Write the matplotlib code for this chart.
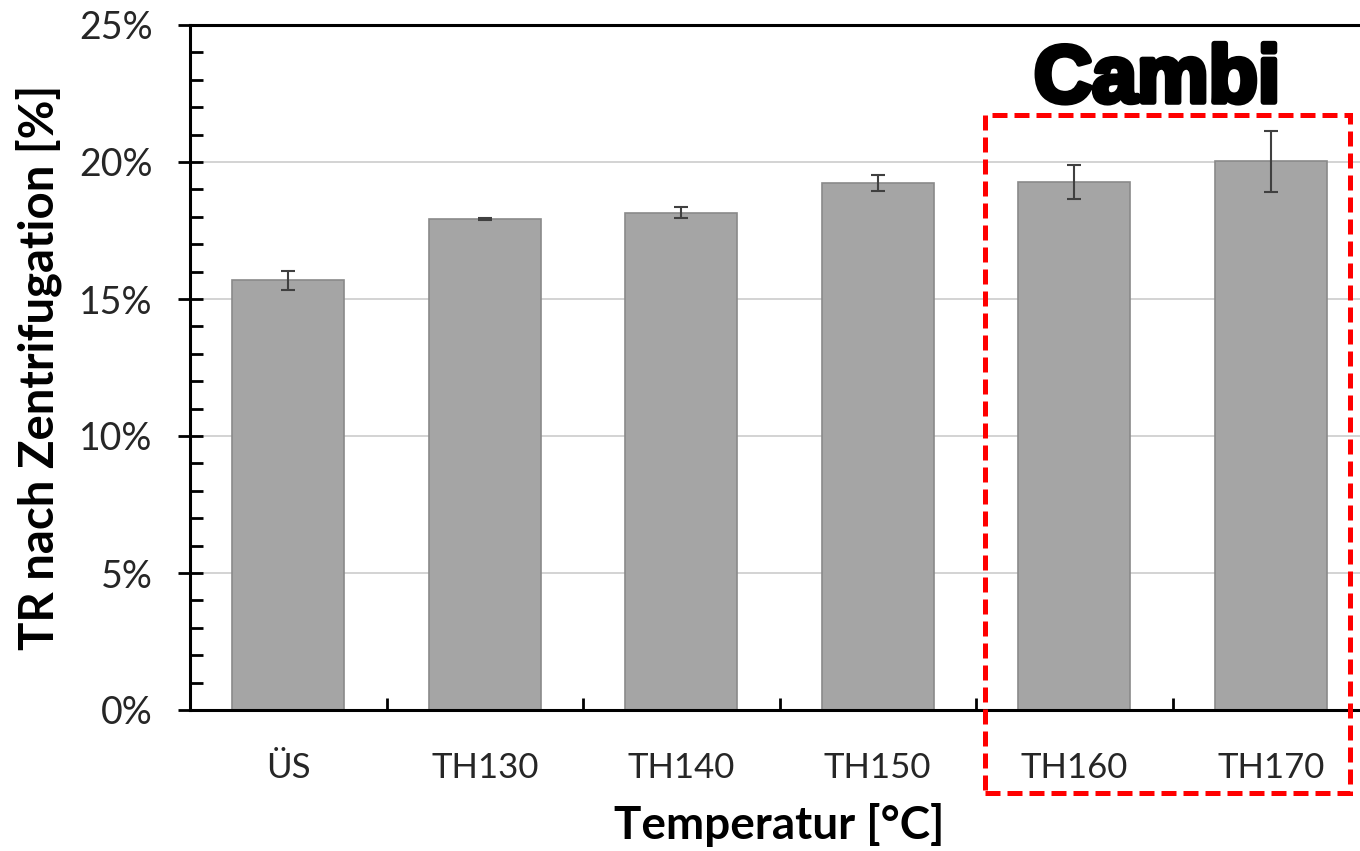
import numpy as np
import matplotlib.pyplot as plt
import matplotlib.patheffects as pe
from matplotlib.patches import Rectangle
from matplotlib.ticker import MultipleLocator, PercentFormatter

# Daten (TR nach Zentrifugation, Anteil)
categories = ['ÜS', 'TH130', 'TH140', 'TH150', 'TH160', 'TH170']
tr_values = [0.1569, 0.1792, 0.1814, 0.1923, 0.1928, 0.2002]
tr_errors = [0.0035, 0.0002, 0.0020, 0.0030, 0.0062, 0.0110]

plt.rcParams['font.family'] = ['Lato', 'DejaVu Sans']

fig = plt.figure(figsize=(13.6, 8.51), dpi=100)
ax = fig.add_axes([190/1360, 1-710/851, (1369-190)/1360, 685/851])

x = np.arange(len(categories))
ax.bar(x, tr_values, width=0.57, color='#a5a5a5', edgecolor='#8a8a8a',
       linewidth=1.2, zorder=2)
ax.errorbar(x, tr_values, yerr=tr_errors, fmt='none', ecolor='#404040',
            elinewidth=1.5, capsize=5, capthick=1.5, zorder=3)

ax.set_xlim(-0.5, len(categories) - 0.5)
ax.set_ylim(0, 0.25)
ax.yaxis.set_major_locator(MultipleLocator(0.05))
ax.yaxis.set_minor_locator(MultipleLocator(0.01))
ax.yaxis.set_major_formatter(PercentFormatter(1.0, decimals=0))
ax.grid(axis='y', color='#d0d0d0', linewidth=1.3, zorder=0)
ax.set_axisbelow(True)

ax.set_xticks(x)
ax.set_xticklabels(categories)
ax.set_xticks(np.arange(len(categories) + 1) - 0.5, minor=True)
ax.tick_params(axis='x', which='major', length=0, pad=30, labelsize=25,
               labelcolor='#262626')
ax.tick_params(axis='x', which='minor', direction='in', length=9, width=2)
ax.tick_params(axis='y', which='major', direction='inout', length=18, width=2,
               pad=18, labelsize=27, labelcolor='#262626')
ax.tick_params(axis='y', which='minor', direction='in', length=9, width=2)

for side in ['left', 'bottom', 'top']:
    ax.spines[side].set_linewidth(2.2)
    ax.spines[side].set_color('black')
ax.spines['right'].set_visible(False)

ax.set_ylabel('TR nach Zentrifugation [%]', fontsize=34, fontweight='bold',
              labelpad=12)
ax.set_xlabel('Temperatur [°C]', fontsize=33, fontweight='bold', labelpad=14)

# Markierung Cambi
rect = Rectangle((985/1360, 1-793/851), (1350-985)/1360, (793-115)/851,
                 transform=fig.transFigure, fill=False, edgecolor='#ff0000',
                 linewidth=3.6, linestyle=(0, (3, 1.4)), clip_on=False)
fig.patches.append(rect)
fig.text(1157/1360, 1-102/851, 'Cambi', ha='center', va='baseline',
         fontsize=58, fontweight='heavy', family=['Liberation Sans', 'DejaVu Sans'],
         path_effects=[pe.withStroke(linewidth=4, foreground='black')])

fig.savefig('out.png', dpi=100)
